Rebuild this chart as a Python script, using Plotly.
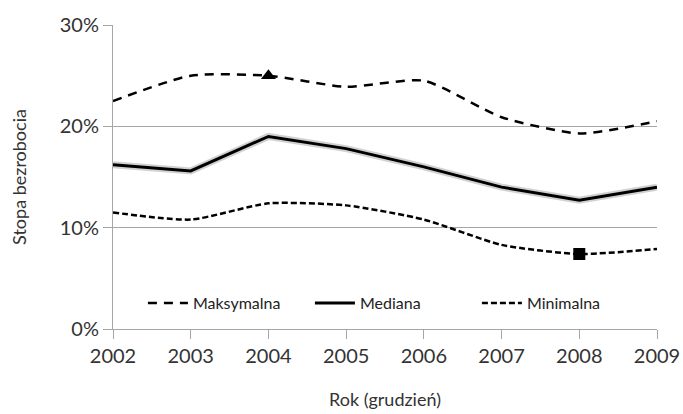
import plotly.graph_objects as go

years = [2002, 2003, 2004, 2005, 2006, 2007, 2008, 2009]
maksymalna = [22.5, 25.0, 25.0, 23.9, 24.5, 20.9, 19.3, 20.5]
mediana = [16.2, 15.6, 19.0, 17.8, 16.0, 14.0, 12.7, 14.0]
minimalna = [11.5, 10.8, 12.4, 12.2, 10.8, 8.3, 7.4, 7.9]

# highlighted extremes: peak of the maximum series, low of the minimum series
peak_year, peak_val = 2004, 25.0
low_year, low_val = 2008, 7.4

FONT = "Lato"
fig = go.Figure()

# soft shadow under the median line
fig.add_trace(go.Scatter(
    x=years, y=mediana, mode="lines", showlegend=False, hoverinfo="skip",
    line=dict(color="rgba(0,0,0,0.18)", width=7),
))

fig.add_trace(go.Scatter(
    x=years, y=maksymalna, mode="lines", name="Maksymalna",
    line=dict(color="black", width=2.5, dash="9px,7px", shape="spline", smoothing=0.6),
))
fig.add_trace(go.Scatter(
    x=years, y=mediana, mode="lines", name="Mediana",
    line=dict(color="black", width=3),
))
fig.add_trace(go.Scatter(
    x=years, y=minimalna, mode="lines", name="Minimalna",
    line=dict(color="black", width=2.5, dash="6px,3px", shape="spline", smoothing=0.6),
))

fig.add_trace(go.Scatter(
    x=[peak_year], y=[peak_val], mode="markers", showlegend=False,
    marker=dict(symbol="triangle-up", size=13, color="black"),
))
fig.add_trace(go.Scatter(
    x=[low_year], y=[low_val], mode="markers", showlegend=False,
    marker=dict(symbol="square", size=12, color="black"),
))

fig.update_layout(
    width=683, height=414,
    margin=dict(l=113, r=26, t=25, b=85),
    paper_bgcolor="white", plot_bgcolor="white",
    font=dict(family=FONT, color="#333333"),
    legend=dict(
        orientation="h", x=0.055, xanchor="left", y=0.085, yanchor="middle",
        bgcolor="rgba(255,255,255,0)", font=dict(size=16, color="#222222"),
        itemwidth=40, entrywidth=112,
    ),
)
fig.update_xaxes(
    range=[2002, 2009], tickvals=years, ticktext=[str(y) for y in years],
    showgrid=False, zeroline=False, automargin=False,
    showline=True, linecolor="#a6a6a6", linewidth=1,
    ticks="outside", ticklen=9, tickcolor="#a6a6a6",
    tickfont=dict(size=20, color="#333333"),
    title=dict(text="Rok (grudzień)", font=dict(size=18, color="#333333"), standoff=27),
)
fig.update_yaxes(
    range=[0, 30], tickvals=[0, 10, 20, 30], ticktext=["0%", "10%", "20%", "30%"],
    showgrid=True, gridcolor="#a6a6a6", gridwidth=1, zeroline=False, automargin=False,
    showline=True, linecolor="#a6a6a6", linewidth=1,
    ticks="outside", ticklen=9, tickcolor="#a6a6a6",
    tickfont=dict(size=20, color="#333333"),
    title=dict(text="Stopa bezrobocia", font=dict(size=18, color="#333333"), standoff=28),
)

fig.write_html("out.html")
